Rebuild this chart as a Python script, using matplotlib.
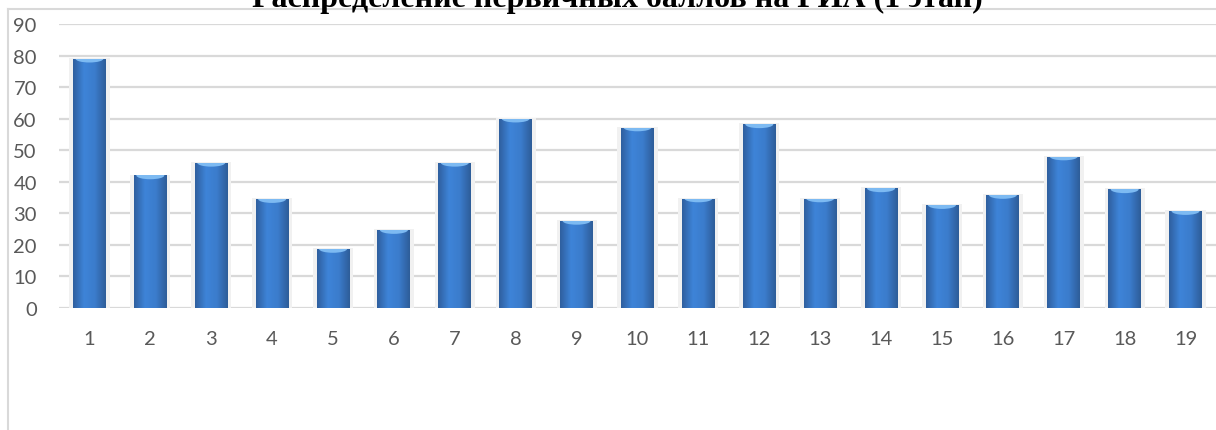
import matplotlib
matplotlib.use("Agg")
import matplotlib.pyplot as plt
import numpy as np
from matplotlib.patches import Ellipse
from matplotlib.lines import Line2D
from matplotlib.colors import LinearSegmentedColormap

categories = [str(i) for i in range(1, 20)]
values = [79, 42, 46, 34.5, 18.7, 24.7, 46, 60, 27.6, 57.2, 34.7, 58.2, 34.7, 37.9, 32.6, 35.8, 48, 37.6, 30.7]
yticks = [0, 10, 20, 30, 40, 50, 60, 70, 80, 90]
title = "Распределение первичных баллов на ГИА (1 этап)"

W, H = 1216, 431
fig = plt.figure(figsize=(W / 100, H / 100), dpi=100)
fig.patch.set_facecolor("white")

ax = fig.add_axes([59 / W, (H - 309) / H, (1216 - 59) / W, (309 - 25) / H])
ax.set_facecolor("none")

x = np.arange(len(categories))
bw = 0.54

# soft shadows
ax.bar(x, [v + 0.6 for v in values], width=bw + 0.12, bottom=-0.3, color="#f1f1f1", zorder=1, linewidth=0)
bars = ax.bar(x, values, width=bw, color="#3a78c8", zorder=3, linewidth=0)
# base strips
ax.bar(x, [-0.7] * len(x), width=bw, color="#7ea5d6", zorder=3, linewidth=0)

cmap = LinearSegmentedColormap.from_list(
    "barg", ["#2f5f9f", "#3e84d8", "#3b7ccc", "#2e5d99"])
grad = np.linspace(0, 1, 64).reshape(1, -1)
for b, v in zip(bars, values):
    x0 = b.get_x()
    im = ax.imshow(grad, extent=[x0, x0 + bw, 0, v], aspect="auto", cmap=cmap,
                   zorder=4, interpolation="bicubic")
    im.set_clip_path(b)
    e = Ellipse((x0 + bw / 2, v), bw * 0.85, 2.4, color="#7dbaf2", zorder=5, linewidth=0)
    ax.add_patch(e)
    e.set_clip_path(b)

ax.set_xlim(-0.5, len(x) - 0.5)
ax.set_ylim(0, 90)
ax.set_yticks(yticks)
ax.set_xticks(x)
ax.set_xticklabels(categories)
ax.yaxis.grid(True, color="#d9d9d9", linewidth=1.6, zorder=0)
ax.set_axisbelow(True)
for s in ax.spines.values():
    s.set_visible(False)
ax.tick_params(axis="both", length=0, labelsize=14.5, labelcolor="#595959")
ax.tick_params(axis="y", pad=16)
ax.tick_params(axis="x", pad=16)
for lab in ax.get_xticklabels() + ax.get_yticklabels():
    lab.set_family(["Lato", "DejaVu Sans"])

# outer chart frame
fig.add_artist(Line2D([8 / W, 8 / W], [0, 1 - 10 / H], transform=fig.transFigure, color="#d9d9d9", linewidth=1.5))
fig.add_artist(Line2D([8 / W, 1], [1 - 10 / H, 1 - 10 / H], transform=fig.transFigure, color="#d9d9d9", linewidth=1.5))

fig.text(617.5 / W, 1 - 7 / H, title, ha="center", va="baseline",
         fontsize=23, fontweight="bold", family=["Liberation Serif", "DejaVu Serif"], color="black")

fig.savefig("out.png", dpi=100)
